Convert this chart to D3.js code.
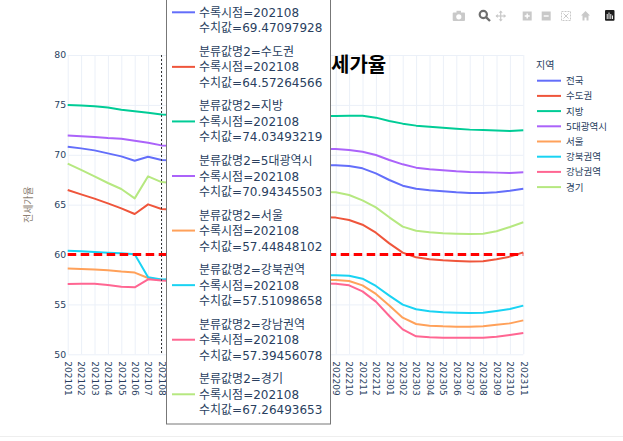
<!DOCTYPE html>
<html>
<head>
<meta charset="utf-8">
<script src="https://cdn.jsdelivr.net/npm/d3@7"></script>
<style>
body { margin: 0; background: #fff; }
svg { display: block; }
</style>
</head>
<body>
<div id="chart"></div>
<script>
// x axis categories (수록시점)
var months = ["202101","202102","202103","202104","202105","202106","202107","202108",
  "202109","202110","202111","202112","202201","202202","202203","202204","202205","202206",
  "202207","202208","202209","202210","202211","202212","202301","202302","202303","202304",
  "202305","202306","202307","202308","202309","202310","202311"];

var seriesNames = ["전국","수도권","지방","5대광역시","서울","강북권역","강남권역","경기"];
var seriesColors = ["#636efa","#EF553B","#00cc96","#ab63fa","#FFA15A","#19d3f3","#FF6692","#B6E880"];

// values (202109~202208 hidden behind the hover box, estimated)
var nationwide = [70.81,70.64,70.44,70.14,69.84,69.40,69.80,69.47,
  69.42,69.38,69.36,69.31,69.27,69.22,69.18,69.12,69.08,69.03,68.99,68.96,
  68.94,68.87,68.64,68.14,67.47,66.90,66.60,66.44,66.34,66.24,66.17,66.17,66.24,66.40,66.60];
var capitalArea = [66.47,66.03,65.60,65.13,64.63,64.06,65.03,64.57,
  64.48,64.40,64.33,64.25,64.16,64.08,64.01,63.94,63.88,63.82,63.77,63.73,
  63.70,63.46,62.99,62.19,61.12,60.19,59.72,59.52,59.42,59.35,59.29,59.32,59.52,59.79,60.22];
var provinces = [74.99,74.95,74.86,74.73,74.52,74.36,74.22,74.03,
  73.99,73.96,73.94,73.92,73.91,73.90,73.90,73.89,73.89,73.88,73.88,73.89,
  73.89,73.92,73.92,73.72,73.39,73.12,72.92,72.82,72.72,72.62,72.52,72.48,72.42,72.38,72.45];
var metroCities = [71.92,71.85,71.78,71.68,71.61,71.41,71.21,70.94,
  70.90,70.86,70.83,70.80,70.77,70.74,70.71,70.68,70.66,70.63,70.61,70.59,
  70.58,70.48,70.31,69.98,69.48,69.04,68.71,68.54,68.44,68.34,68.27,68.24,68.21,68.17,68.24];
var seoul = [58.59,58.56,58.49,58.42,58.29,58.19,57.65,57.45,
  57.43,57.45,57.47,57.48,57.50,57.51,57.50,57.49,57.48,57.47,57.46,57.45,
  57.45,57.35,56.91,56.05,54.88,53.67,53.04,52.87,52.80,52.77,52.77,52.80,52.97,53.10,53.40];
var gangbuk = [60.39,60.32,60.25,60.18,60.12,60.02,57.72,57.51,
  57.55,57.60,57.66,57.72,57.78,57.83,57.87,57.90,57.92,57.93,57.93,57.92,
  57.92,57.88,57.58,56.85,55.88,54.98,54.51,54.31,54.21,54.17,54.14,54.17,54.34,54.54,54.88];
var gangnam = [57.05,57.08,57.08,56.95,56.78,56.71,57.52,57.39,
  57.35,57.33,57.30,57.28,57.25,57.22,57.19,57.16,57.14,57.11,57.10,57.09,
  57.08,56.91,56.31,55.28,53.84,52.50,51.80,51.70,51.67,51.67,51.67,51.67,51.77,51.94,52.14];
var gyeonggi = [69.11,68.48,67.84,67.17,66.57,65.63,67.84,67.26,
  67.15,67.05,66.95,66.86,66.78,66.70,66.62,66.54,66.46,66.38,66.31,66.26,
  66.24,65.97,65.43,64.73,63.73,62.80,62.39,62.23,62.13,62.09,62.06,62.09,62.33,62.76,63.23];

var allSeries = [nationwide, capitalArea, provinces, metroCities, seoul, gangbuk, gangnam, gyeonggi];

var yTicks = [50,55,60,65,70,75,80];
var refLine = 60;

// hover label contents
var hoverMonth = "202108";
var hoverValues = ["69.47097928","64.57264566","74.03493219","70.94345503",
  "57.44848102","57.51098658","57.39456078","67.26493653"];

var svgWidth = 623;
var svgHeight = 441;
var plot = { left: 67.7, right: 523.3, top: 55, bottom: 354.3 };
var fontFam = "'DejaVu Sans', 'Noto Sans CJK KR', sans-serif";
var cjkFam = "'Noto Sans CJK KR', 'DejaVu Sans', sans-serif";

var svg = d3.select("#chart")
  .append("svg")
  .attr("width", svgWidth)
  .attr("height", svgHeight);

var xScale = d3.scalePoint()
  .domain(months)
  .range([plot.left, plot.right]);
var yScale = d3.scaleLinear()
  .domain([50, 80])
  .range([plot.bottom, plot.top]);

// x axis with gridlines
var xAxisG = svg.append("g")
  .attr("transform", `translate(0, ${plot.bottom})`)
  .call(d3.axisBottom(xScale).tickSize(-(plot.bottom - plot.top)));
xAxisG.select(".domain").remove();
xAxisG.selectAll("line").attr("stroke", "#ebf0f8");
xAxisG.selectAll("text")
  .attr("transform", "rotate(90)")
  .attr("text-anchor", "start")
  .attr("x", 7)
  .attr("y", 0)
  .attr("dy", "0.35em")
  .attr("fill", "#2a3f5f")
  .style("font-family", fontFam)
  .style("font-size", "9px");

// y axis with gridlines
var yAxisG = svg.append("g")
  .attr("transform", `translate(${plot.left}, 0)`)
  .call(d3.axisLeft(yScale).tickValues(yTicks).tickSize(-(plot.right - plot.left)).tickPadding(1.5));
yAxisG.select(".domain").remove();
yAxisG.selectAll("line").attr("stroke", "#ebf0f8");
yAxisG.selectAll("text")
  .attr("fill", "#2a3f5f")
  .style("font-family", fontFam)
  .style("font-size", "9.3px");

// y axis title
svg.append("text")
  .attr("transform", `translate(32, ${(plot.top + plot.bottom) / 2}) rotate(-90)`)
  .attr("text-anchor", "middle")
  .attr("fill", "#8c7f73")
  .style("font-family", cjkFam)
  .style("font-size", "10px")
  .text("전세가율");

// series lines
var line = d3.line()
  .x((d, i) => xScale(months[i]))
  .y(d => yScale(d));

svg.selectAll(".series")
  .data(allSeries)
  .enter()
  .append("path")
  .attr("class", "series")
  .attr("d", d => line(d))
  .attr("fill", "none")
  .attr("stroke", (d, i) => seriesColors[i])
  .attr("stroke-width", 2)
  .attr("stroke-linejoin", "round");

// reference line at 60
svg.append("line")
  .attr("x1", xScale(months[0]))
  .attr("x2", xScale(months[months.length - 1]))
  .attr("y1", yScale(refLine))
  .attr("y2", yScale(refLine))
  .attr("stroke", "red")
  .attr("stroke-width", 3)
  .attr("stroke-dasharray", "8.5,4.5");

// spike line at hovered month
svg.append("line")
  .attr("x1", xScale(hoverMonth))
  .attr("x2", xScale(hoverMonth))
  .attr("y1", plot.top)
  .attr("y2", plot.bottom)
  .attr("stroke", "#333")
  .attr("stroke-width", 1)
  .attr("stroke-dasharray", "2,2");

// title (first letter sits under the hover box)
var title = svg.append("text")
  .attr("y", 72)
  .attr("fill", "#000")
  .style("font-family", cjkFam)
  .style("font-size", "20px")
  .style("font-weight", "bold")
  .text("전세가율");
// put the second glyph at x=331
var firstW = title.node().getSubStringLength(0, 1);
title.attr("x", 331 - firstW);

// legend
var legend = svg.append("g");
legend.append("text")
  .attr("x", 536)
  .attr("y", 68.5)
  .attr("fill", "#2a3f5f")
  .style("font-family", cjkFam)
  .style("font-size", "10px")
  .text("지역");
var legendItems = legend.selectAll(".item")
  .data(seriesNames)
  .enter()
  .append("g")
  .attr("class", "item")
  .attr("transform", (d, i) => `translate(0, ${80.7 + i * 15.2})`);
legendItems.append("line")
  .attr("x1", 537).attr("x2", 561)
  .attr("stroke", (d, i) => seriesColors[i])
  .attr("stroke-width", 2);
legendItems.append("text")
  .attr("x", 566)
  .attr("y", 3.5)
  .attr("fill", "#2a3f5f")
  .style("font-family", fontFam)
  .style("font-size", "9.5px")
  .text(d => d);

// unified hover box
var hover = svg.append("g");
hover.append("rect")
  .attr("x", 166.5)
  .attr("y", -60)
  .attr("width", 164)
  .attr("height", 484)
  .attr("fill", "#fff")
  .attr("stroke", "#777")
  .attr("stroke-width", 1);
var hoverItems = hover.selectAll(".hitem")
  .data(seriesNames)
  .enter()
  .append("g")
  .attr("class", "hitem")
  .attr("transform", (d, i) => `translate(0, ${12.3 + i * 54.57})`);
hoverItems.append("line")
  .attr("x1", 172).attr("x2", 195)
  .attr("stroke", (d, i) => seriesColors[i])
  .attr("stroke-width", 2);
var hoverText = hoverItems.append("text")
  .attr("fill", "#2a3f5f")
  .style("font-family", fontFam)
  .style("font-size", "12px");
// the first entry's name line lies above the window, so only later ones get it
hoverText.filter((d, i) => i > 0)
  .append("tspan").attr("x", 199).attr("y", -11)
  .text(d => "분류값명2=" + d);
hoverText.append("tspan").attr("x", 199).attr("y", 4.5)
  .text("수록시점=" + hoverMonth);
hoverText.append("tspan").attr("x", 199).attr("y", 20)
  .text((d, i) => "수치값=" + hoverValues[i]);

// modebar icons
var mb = svg.append("g");
var light = "#c9c9c9";
// camera
mb.append("rect").attr("x", 452.7).attr("y", 12.5).attr("width", 12.3).attr("height", 8.5).attr("rx", 1).attr("fill", light);
mb.append("rect").attr("x", 456.5).attr("y", 10.8).attr("width", 4.5).attr("height", 2.5).attr("fill", light);
mb.append("circle").attr("cx", 458.8).attr("cy", 16.8).attr("r", 2.6).attr("fill", "#fff");
// zoom (active)
mb.append("circle").attr("cx", 483.3).attr("cy", 14.5).attr("r", 3.6).attr("fill", "none").attr("stroke", "#6e6e6e").attr("stroke-width", 2.2);
mb.append("line").attr("x1", 486).attr("y1", 17.2).attr("x2", 490).attr("y2", 21).attr("stroke", "#6e6e6e").attr("stroke-width", 2.4);
// pan
mb.append("line").attr("x1", 496).attr("x2", 505.5).attr("y1", 16).attr("y2", 16).attr("stroke", light).attr("stroke-width", 1.2);
mb.append("line").attr("x1", 500.7).attr("x2", 500.7).attr("y1", 11).attr("y2", 21).attr("stroke", light).attr("stroke-width", 1.2);
mb.append("path").attr("d", "M500.7,10.5 L498.7,12.8 L502.7,12.8 Z M500.7,21.5 L498.7,19.2 L502.7,19.2 Z M495.5,16 L497.8,14 L497.8,18 Z M506,16 L503.7,14 L503.7,18 Z").attr("fill", light);
// zoom in / out
mb.append("rect").attr("x", 522.7).attr("y", 11.5).attr("width", 9).attr("height", 9).attr("fill", light);
mb.append("path").attr("d", "M527.2,13.5 V18.5 M524.7,16 H529.7").attr("stroke", "#fff").attr("stroke-width", 1.4);
mb.append("rect").attr("x", 541.7).attr("y", 11.5).attr("width", 9).attr("height", 9).attr("fill", light);
mb.append("path").attr("d", "M543.7,16 H548.7").attr("stroke", "#fff").attr("stroke-width", 1.4);
// autoscale
mb.append("rect").attr("x", 561.5).attr("y", 11.5).attr("width", 9).attr("height", 9).attr("fill", "none").attr("stroke", light).attr("stroke-width", 1).attr("stroke-dasharray", "2,1");
mb.append("path").attr("d", "M563.5,13.5 L568.5,18.5 M568.5,13.5 L563.5,18.5").attr("stroke", light).attr("stroke-width", 1);
// home
mb.append("path").attr("d", "M585.5,11 L581,15.5 L582.5,15.5 L582.5,20.5 L584.5,20.5 L584.5,17.5 L586.5,17.5 L586.5,20.5 L588.5,20.5 L588.5,15.5 L590,15.5 Z").attr("fill", light);
// logo
mb.append("rect").attr("x", 605).attr("y", 10).attr("width", 9.5).attr("height", 10.7).attr("rx", 1).attr("fill", "#1d1d1d");
mb.append("path").attr("d", "M607.2,14 V19 M609,12.5 V19 M610.8,14 V19 M612.5,15.5 V19").attr("stroke", "#eee").attr("stroke-width", 1);

// faint page border at the bottom
svg.append("line")
  .attr("x1", 0).attr("x2", svgWidth)
  .attr("y1", 436.5).attr("y2", 436.5)
  .attr("stroke", "#eeeeee")
  .attr("stroke-width", 1);

// keep the hover box above the title
hover.raise();
mb.raise();
</script>
</body>
</html>
